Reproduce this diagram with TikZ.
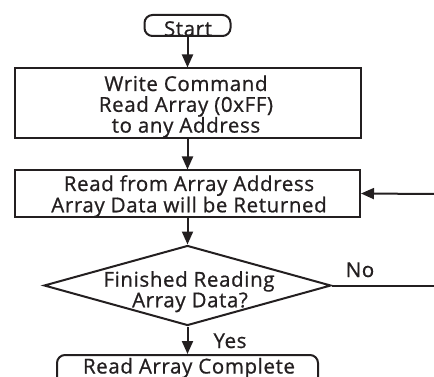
\documentclass[tikz,border=0pt]{standalone}
\usepackage{fontspec}
\setmainfont{Open Sans}[LetterSpace=3,FakeBold=0.8]
\usetikzlibrary{arrows.meta,shapes.geometric}
\definecolor{ink}{HTML}{231F20}
\begin{document}
\begin{tikzpicture}[x=1pt,y=-1pt,line width=2pt,
  >={Triangle[length=13pt,width=11pt]},
  lbl/.style={font=\fontsize{20.5}{21}\selectfont, inner sep=0pt, anchor=base, text=ink},
  procbox/.style={draw=ink, rectangle, inner sep=0pt},
  termbox/.style={draw=ink, rectangle, rounded corners=8pt, inner sep=0pt},
  decbox/.style={draw=ink, diamond, inner sep=0pt},
  flow/.style={draw=ink, ->}]
\useasboundingbox (0,0) rectangle (434,377);
% shapes
\node[termbox, minimum width=86pt, minimum height=21pt] (start) at (187.5,25.5) {};
\node[procbox, minimum width=346pt, minimum height=70pt] (b1) at (187.5,103.5) {};
\node[procbox, minimum width=345pt, minimum height=46pt] (b2) at (187.5,193.5) {};
\node[decbox, minimum width=287pt, minimum height=80pt] (dec) at (187.5,285.5) {};
\node[termbox, minimum width=261pt, minimum height=30pt] (end) at (187.5,370) {};
% texts
\node[lbl] (starttext) at (188,36) {Start};
\node[lbl] (b1l1) at (186,91) {Write Command};
\node[lbl] (b1l2) at (186,111.8) {Read Array (0xFF)};
\node[lbl] (b1l3) at (186,132.6) {to any Address};
\node[lbl] (b2l1) at (189,191) {Read from Array Address};
\node[lbl] (b2l2) at (189,212.3) {Array Data will be Returned};
\node[lbl] (decl1) at (189,286.7) {Finished Reading};
\node[lbl] (decl2) at (190,307.3) {Array Data?};
\node[lbl] (endtext) at (189,373.5) {Read Array Complete};
\node[lbl] (yes) at (230,348) {Yes};
\node[lbl] (no) at (360,277) {No};
\coordinate (rt1) at (434,194);
\coordinate (rt2) at (434,285.5);
% connectors
\draw[flow] (start.south) -- (b1.north);
\draw[flow] (b1.south) -- (b2.north);
\draw[flow] (b2.south) -- (dec.north);
\draw[flow] (dec.south) -- (end.north);
\draw[draw=ink] (dec.east) -- (rt2);
\draw[flow] (rt1) -- (b2.east);
\end{tikzpicture}
\end{document}
